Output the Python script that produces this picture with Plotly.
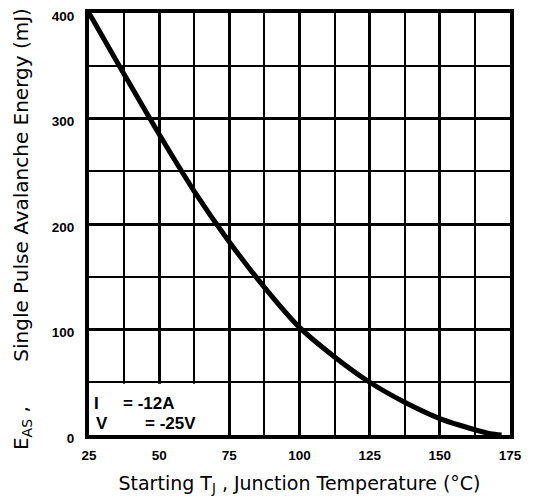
import plotly.graph_objects as go

# Data
temp_c = [25, 37.5, 50, 62.5, 75, 87.5, 100, 112.5, 125, 137.5, 150, 162.5, 168, 172]
energy_mj = [400, 342, 285, 231, 183, 140, 102, 74, 50, 31, 15.5, 5, 1.2, 0]

x_ticks = [25, 50, 75, 100, 125, 150, 175]
y_ticks = [0, 100, 200, 300, 400]

cond_names = ["I", "V"]
cond_values = ["= -12A", "= -25V"]

x_title = "Starting T<sub>J</sub> , Junction Temperature (°C)"
y_title = "E<sub>AS</sub> ,       Single Pulse Avalanche Energy (mJ)"

FONT = "Liberation Sans"
TITLE_FONT = "DejaVu Sans"

fig = go.Figure()
fig.add_trace(go.Scatter(
    x=temp_c, y=energy_mj, mode="lines",
    line=dict(color="black", width=5, shape="spline", smoothing=0.8),
    showlegend=False, hoverinfo="skip",
))

# white box behind condition text
fig.add_shape(type="rect", xref="x", yref="y", x0=25, x1=74.3, y0=0, y1=48.5,
              fillcolor="white", line=dict(width=0), layer="between")

name_x = [26.2, 26.9]
value_x = [36.5, 44.2]
row_y = [29.5, 10.5]
for i in range(2):
    fig.add_annotation(x=name_x[i], y=row_y[i], xref="x", yref="y",
                       text="<b>" + cond_names[i] + "</b>",
                       showarrow=False, xanchor="left", yanchor="middle",
                       font=dict(family=FONT, size=17, color="black"))
    fig.add_annotation(x=value_x[i], y=row_y[i], xref="x", yref="y",
                       text="<b>" + cond_values[i] + "</b>",
                       showarrow=False, xanchor="left", yanchor="middle",
                       font=dict(family=FONT, size=17, color="black"))

# y-axis title as a rotated annotation for precise placement
fig.add_annotation(x=0, y=0.488, xref="paper", yref="paper", xshift=-67,
                   text=y_title, textangle=-90, showarrow=False,
                   xanchor="center", yanchor="middle",
                   font=dict(family=TITLE_FONT, size=20, color="black"))

axis_common = dict(
    showline=True, linecolor="black", linewidth=4, mirror=True,
    showgrid=True, gridcolor="black", gridwidth=3,
    zeroline=False, ticks="", ticklabeloverflow="allow",
    tickfont=dict(family=FONT, size=13.5, color="black", weight="bold"),
)

fig.update_xaxes(
    range=[25, 175], tickvals=x_ticks, ticktext=[str(v) for v in x_ticks],
    minor=dict(dtick=12.5, tick0=25, showgrid=True, gridcolor="black", gridwidth=1.5),
    ticklabelstandoff=5,
    title=dict(text=x_title,
               font=dict(family=TITLE_FONT, size=19, color="black"), standoff=15),
    **axis_common,
)
fig.update_yaxes(
    range=[0, 400], tickvals=y_ticks, ticktext=[str(v) for v in y_ticks],
    minor=dict(dtick=50, tick0=0, showgrid=True, gridcolor="black", gridwidth=1.5),
    ticklabelstandoff=8, ticklabelshift=3,
    **axis_common,
)

# page body has an 8px margin, so the figure is sized/offset to land on the reference
fig.update_layout(
    width=531, height=492,
    margin=dict(l=81, r=28.5, t=5, b=65, autoexpand=False),
    paper_bgcolor="white", plot_bgcolor="white",
)

fig.write_html("out.html")
